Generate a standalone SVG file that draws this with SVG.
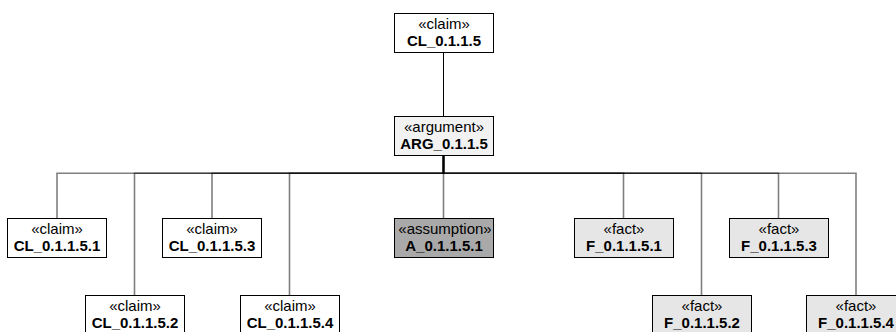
<svg xmlns="http://www.w3.org/2000/svg" width="896" height="332" viewBox="0 0 896 332">
<style>
.box{stroke:#000;stroke-width:1}
.claim{fill:#ffffff}
.arg{fill:#f2f2f2}
.fact{fill:#e6e6e6}
.asm{fill:#a9a9a9}
.st{font-family:"Liberation Sans",Arial,sans-serif;font-size:15px;text-anchor:middle;fill:#000}
.nm{font-family:"Liberation Sans",Arial,sans-serif;font-size:15px;font-weight:bold;text-anchor:middle;fill:#000}
.c{fill:none;stroke:#000;stroke-width:1.6;stroke-opacity:0.5}
.c0{fill:none;stroke:#000;stroke-width:1}
</style>
<rect width="896" height="332" fill="#fff"/>
<g id="connectors">
<path class="c0" d="M443.5 52 V116"/>
<path class="c" d="M443.5 155 V173.3 H57 V218"/>
<path class="c" d="M443.5 155 V173.3 H134.5 V295"/>
<path class="c" d="M443.5 155 V173.3 H212 V218"/>
<path class="c" d="M443.5 155 V173.3 H289.5 V295"/>
<path class="c" d="M443.5 155 V218"/>
<path class="c" d="M443.5 155 V173.3 H623.5 V218"/>
<path class="c" d="M443.5 155 V173.3 H701.5 V295"/>
<path class="c" d="M443.5 155 V173.3 H778.5 V218"/>
<path class="c" d="M443.5 155 V173.3 H856 V295"/>
</g>
<g id="CL_0.1.1.5">
<rect class="box claim" x="394.5" y="13.5" width="99" height="39"/>
<text class="st" x="444" y="28.5">«claim»</text>
<text class="nm" x="444" y="45.5">CL_0.1.1.5</text>
</g>
<g id="ARG_0.1.1.5">
<rect class="box arg" x="394.5" y="116.5" width="99" height="39"/>
<text class="st" x="444" y="131.5">«argument»</text>
<text class="nm" x="444" y="148.5">ARG_0.1.1.5</text>
</g>
<g id="CL_0.1.1.5.1">
<rect class="box claim" x="7.5" y="218.5" width="99" height="39"/>
<text class="st" x="57" y="233.5">«claim»</text>
<text class="nm" x="57" y="250.5">CL_0.1.1.5.1</text>
</g>
<g id="CL_0.1.1.5.2">
<rect class="box claim" x="85.5" y="295.5" width="99" height="39"/>
<text class="st" x="135" y="310.5">«claim»</text>
<text class="nm" x="135" y="327.5">CL_0.1.1.5.2</text>
</g>
<g id="CL_0.1.1.5.3">
<rect class="box claim" x="162.5" y="218.5" width="99" height="39"/>
<text class="st" x="212" y="233.5">«claim»</text>
<text class="nm" x="212" y="250.5">CL_0.1.1.5.3</text>
</g>
<g id="CL_0.1.1.5.4">
<rect class="box claim" x="240.5" y="295.5" width="99" height="39"/>
<text class="st" x="290" y="310.5">«claim»</text>
<text class="nm" x="290" y="327.5">CL_0.1.1.5.4</text>
</g>
<g id="A_0.1.1.5.1">
<rect class="box asm" x="394.5" y="218.5" width="99" height="39"/>
<text class="st" x="445" y="233.5">«assumption»</text>
<text class="nm" x="444" y="250.5">A_0.1.1.5.1</text>
</g>
<g id="F_0.1.1.5.1">
<rect class="box fact" x="574.5" y="218.5" width="99" height="39"/>
<text class="st" x="624" y="233.5">«fact»</text>
<text class="nm" x="624" y="250.5">F_0.1.1.5.1</text>
</g>
<g id="F_0.1.1.5.2">
<rect class="box fact" x="652.5" y="295.5" width="99" height="39"/>
<text class="st" x="702" y="310.5">«fact»</text>
<text class="nm" x="702" y="327.5">F_0.1.1.5.2</text>
</g>
<g id="F_0.1.1.5.3">
<rect class="box fact" x="729.5" y="218.5" width="99" height="39"/>
<text class="st" x="779" y="233.5">«fact»</text>
<text class="nm" x="779" y="250.5">F_0.1.1.5.3</text>
</g>
<g id="F_0.1.1.5.4">
<rect class="box fact" x="806.5" y="295.5" width="99" height="39"/>
<text class="st" x="856" y="310.5">«fact»</text>
<text class="nm" x="856" y="327.5">F_0.1.1.5.4</text>
</g>
</svg>
